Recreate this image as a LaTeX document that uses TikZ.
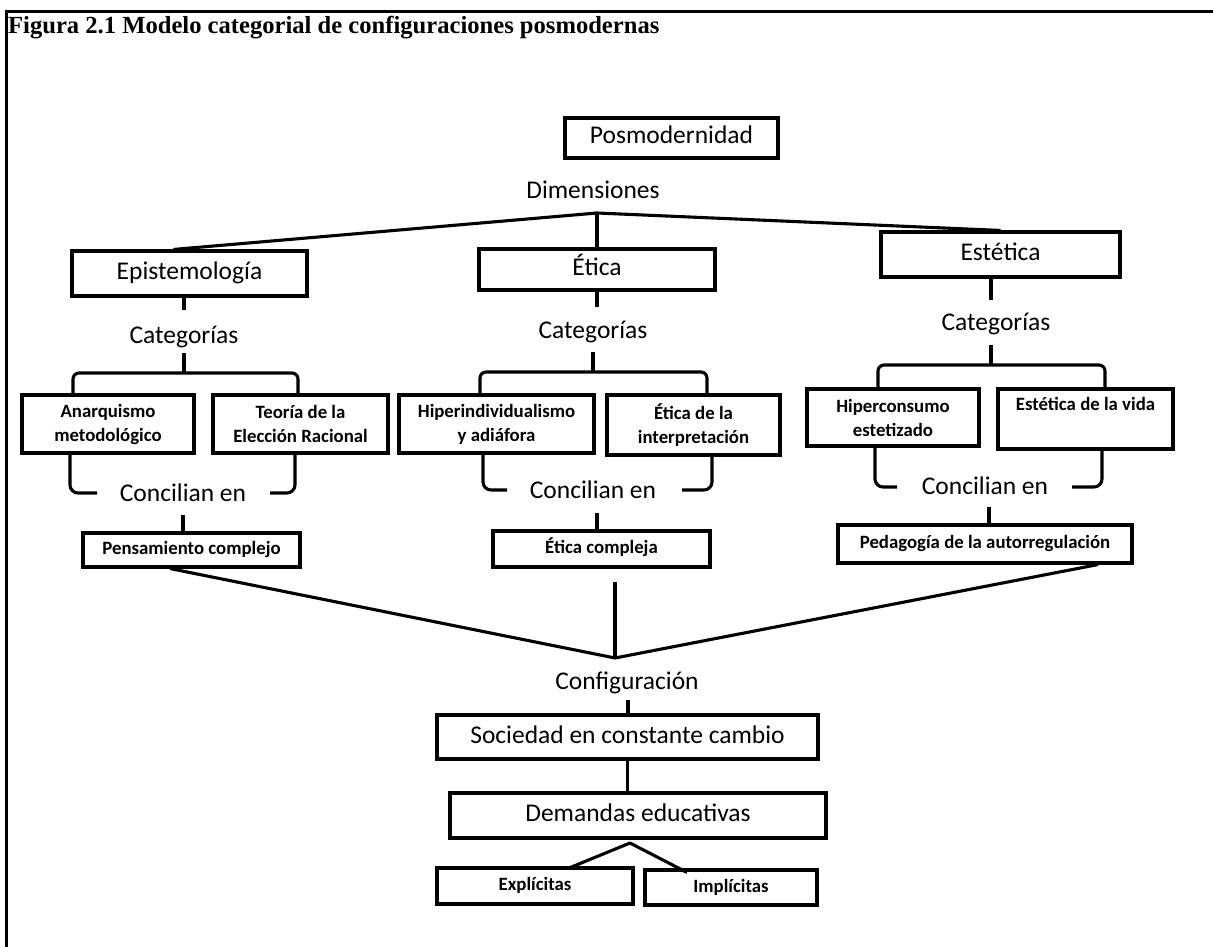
\documentclass[tikz,border=0pt]{standalone}
\usepackage{fontspec}
\setmainfont{Carlito}
\newfontfamily\titlefont{Liberation Serif}
\begin{document}
\begin{tikzpicture}[x=1pt,y=-1pt,
  conn/.style={line width=3.1pt, line join=round},
  big/.style={font=\fontsize{25.5}{30}\selectfont, text height=17pt, text depth=5pt},
  sm/.style={font=\bfseries\fontsize{18.8}{24}\selectfont, text height=13pt, text depth=4pt},
  smtwo/.style={font=\bfseries\fontsize{18.8}{24}\selectfont, align=center},
  box/.style={draw, line width=3.1pt, inner sep=0pt},
  lbl/.style={inner sep=0pt, font=\fontsize{25.5}{30}\selectfont, text height=17pt, text depth=5pt}
]
\useasboundingbox (0,0) rectangle (1213,947);

% frame and caption
\draw[line width=3pt] (6,947) -- (6,12) -- (1213,12);
\node[anchor=base west, inner sep=0pt, font=\titlefont\bfseries\fontsize{24.6}{28}\selectfont] (title) at (8,34)
  {Figura 2.1 Modelo categorial de configuraciones posmodernas};

% top level
\node[box,big,minimum width=213,minimum height=40] (pos) at (671.5,138) {Posmodernidad};
\node[lbl] (dim) at (593,192) {Dimensiones};
\coordinate (jd) at (597,213);

% dimensions
\node[box,big,minimum width=235,minimum height=45] (epi) at (189.5,273.5) {Epistemología};
\node[box,big,minimum width=236,minimum height=41] (eti) at (597,269.5) {Ética};
\node[box,big,minimum width=239,minimum height=45] (est) at (1000.5,254.5) {Estética};
\draw[conn] (jd) -- ([xshift=-16]epi.north);
\draw[conn] (jd) -- (est.north);
\draw[conn] (jd) -- (eti.north);

% categories labels
\draw[conn] ([xshift=-5.5]epi.south) -- ++(0,12);
\draw[conn] (eti.south) -- ++(0,15);
\draw[conn] ([xshift=-9.5]est.south) -- ++(0,21);
\node[lbl] (catA) at (184,337) {Categorías};
\node[lbl] (catB) at (593,332) {Categorías};
\node[lbl] (catC) at (996,324) {Categorías};

% category boxes
\node[box,smtwo,minimum width=172,minimum height=58] (ana) at (108,424) {Anarquismo\\metodológico};
\node[box,smtwo,minimum width=175,minimum height=58] (teo) at (300.5,424) {Teoría de la\\Elección Racional};
\node[box,smtwo,minimum width=195,minimum height=58] (hip) at (496.5,424) {Hiperindividualismo\\y adiáfora};
\node[box,smtwo,minimum width=173,minimum height=60] (eint) at (693.5,425) {Ética de la\\interpretación};
\node[box,smtwo,minimum width=172,minimum height=57] (hco) at (893,417.5) {Hiperconsumo\\estetizado};
\node[box,smtwo,minimum width=175,minimum height=60] (evid) at (1085.5,419) {Estética de la vida\\\strut};

% upper brackets
\draw[conn] (184,353) -- (184,373);
\draw[conn, rounded corners=6] (73,395) |- (298,373) -- (298,395);
\draw[conn] (593,352) -- (593,372);
\draw[conn, rounded corners=6] (480,395) |- (707,372) -- (707,395);
\draw[conn] (991,345) -- (991,365);
\draw[conn, rounded corners=6] (878,389) |- (1105,365) -- (1105,389);

% lower brackets
\draw[conn, rounded corners=8] (70,453) |- (97,493);
\draw[conn, rounded corners=8] (295,453) |- (270,493);
\draw[conn, rounded corners=8] (483,453) |- (507,490);
\draw[conn, rounded corners=8] (712,455) |- (682,490);
\draw[conn, rounded corners=8] (875,446) |- (897,487);
\draw[conn, rounded corners=8] (1102,449) |- (1072,487);
\node[lbl] (conA) at (183,495) {Concilian en};
\node[lbl] (conB) at (593,492) {Concilian en};
\node[lbl] (conC) at (985,488) {Concilian en};

% synthesis boxes
\node[box,sm,minimum width=217,minimum height=34] (pen) at (191.5,550) {Pensamiento complejo};
\node[box,sm,minimum width=217,minimum height=36] (ecom) at (601.5,549) {Ética compleja};
\node[box,sm,minimum width=294,minimum height=38] (ped) at (985,544) {Pedagogía de la autorregulación};
\draw[conn] (183,515) -- (183,533);
\draw[conn] (597,513) -- (597,531);
\draw[conn] (989,507) -- (989,525);

% convergence
\coordinate (cv) at (615,658);
\draw[conn] ([xshift=-21.5]pen.south) -- (cv);
\draw[conn] ([xshift=113]ped.south) -- (cv);
\draw[conn] (615,582) -- (cv);

% configuration
\node[lbl] (conf) at (627,683) {Configuración};
\node[box,big,minimum width=381,minimum height=44] (soc) at (627.5,737) {Sociedad en constante cambio};
\node[box,big,minimum width=376,minimum height=45] (dem) at (638,815.5) {Demandas educativas};
\draw[conn] (628,700) -- (628,715);
\draw[conn] (soc.south) -- (soc.south |- dem.north);

% demands
\node[box,sm,minimum width=196,minimum height=36] (exp) at (535,886) {Explícitas};
\node[box,sm,minimum width=172,minimum height=35] (imp) at (731,887.5) {Implícitas};
\coordinate (fk) at (630,843);
\draw[conn] ([xshift=33,yshift=-2]exp.north) -- (fk) -- ([xshift=-44,yshift=-4]imp.north);
\end{tikzpicture}
\end{document}
